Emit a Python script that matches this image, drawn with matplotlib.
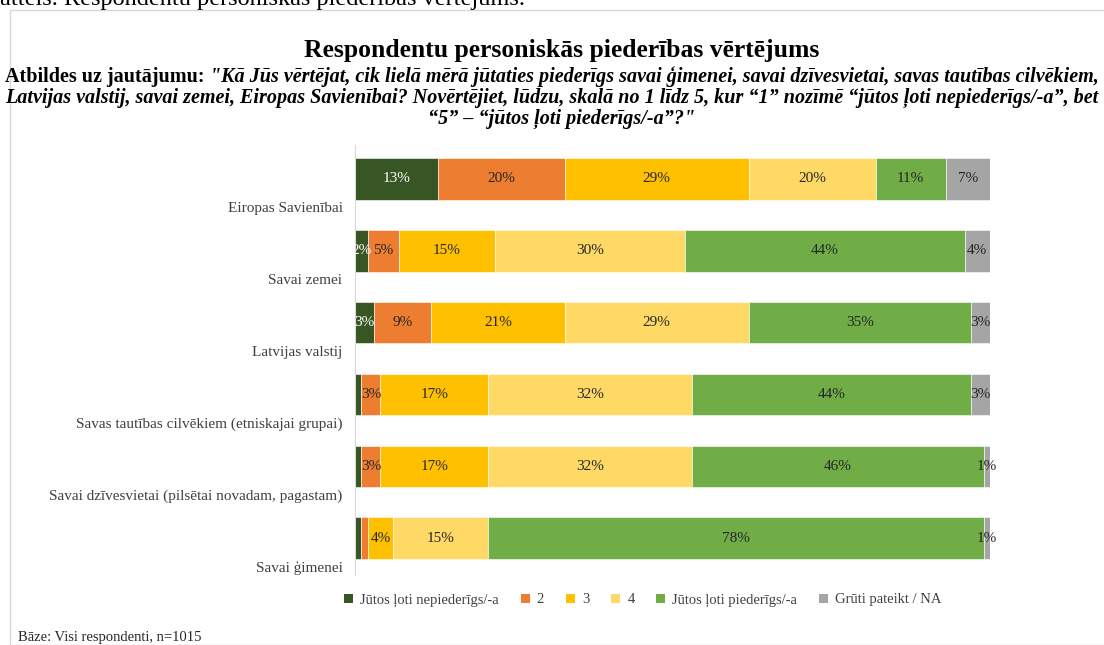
import matplotlib
matplotlib.use("Agg")
import matplotlib.pyplot as plt
from matplotlib.patches import Patch, Rectangle

categories = ["Eiropas Savienībai", "Savai zemei", "Latvijas valstij",
              "Savas tautības cilvēkiem (etniskajai grupai)",
              "Savai dzīvesvietai (pilsētai novadam, pagastam)", "Savai ģimenei"]
series_names = ["Jūtos ļoti nepiederīgs/-a", "2", "3", "4",
                "Jūtos ļoti piederīgs/-a", "Grūti pateikt / NA"]
v_1 = [13, 2, 3, 1, 1, 1]
v_2 = [20, 5, 9, 3, 3, 1]
v_3 = [29, 15, 21, 17, 17, 4]
v_4 = [20, 30, 29, 32, 32, 15]
v_5 = [11, 44, 35, 44, 46, 78]
v_na = [7, 4, 3, 3, 1, 1]
series = [v_1, v_2, v_3, v_4, v_5, v_na]
colors = ["#375623", "#ED7D31", "#FFC000", "#FFD966", "#70AD47", "#A5A5A5"]
label_colors = ["white", "#262626", "#262626", "#262626", "#262626", "#262626"]

title = "Respondentu personiskās piederības vērtējums"
sub_a = "Atbildes uz jautājumu: "
sub_b = "\"Kā Jūs vērtējat, cik lielā mērā jūtaties piederīgs savai ģimenei, savai dzīvesvietai, savas tautības cilvēkiem,"
sub_c = "Latvijas valstij, savai zemei, Eiropas Savienībai? Novērtējiet, lūdzu, skalā no 1 līdz 5, kur “1” nozīmē “jūtos ļoti nepiederīgs/-a”, bet"
sub_d = "“5” – “jūtos ļoti piederīgs/-a”?\""

W, H = 1104, 645
plt.rcParams['font.family'] = ['Liberation Serif', 'DejaVu Serif']
fig = plt.figure(figsize=(W / 100, H / 100), dpi=100)


def fx(px):
    return px / W


def fy(py):
    return 1 - py / H


fig.canvas.draw()
renderer = fig.canvas.get_renderer()


def width_of(s, size, **kw):
    t = fig.text(0, 0, s, fontsize=size, **kw)
    w = t.get_window_extent(renderer).width
    t.remove()
    return w


# document frame
fig.patches.append(Rectangle((fx(10), 0), 1.2, fy(10), transform=fig.transFigure,
                             fill=False, edgecolor="#D9D9D9", linewidth=1.0))

# cut-off caption line above the frame
fig.text(fx(0), fy(5), "attēls. Respondentu personiskās piederības vērtējums.",
         fontsize=17.5, ha="left", va="baseline", color="black")

# title sized to reference width
t_size = 15.5 * 513 / width_of(title, 15.5, fontweight="bold")
fig.text(fx(562), fy(57), title, fontsize=t_size, fontweight="bold",
         ha="center", va="baseline")

# subtitle sized so first line spans the reference width
w1 = width_of(sub_a, 12, fontweight="bold") + width_of(sub_b, 12, fontweight="bold", style="italic")
sub_fs = 12 * 1093 / w1
t1 = fig.text(fx(5), fy(82), sub_a, fontsize=sub_fs, fontweight="bold",
              ha="left", va="baseline")
bb = t1.get_window_extent(renderer)
fig.text(bb.x1 / W, fy(82), sub_b, fontsize=sub_fs, fontweight="bold",
         style="italic", ha="left", va="baseline")
fig.text(fx(5), fy(103), sub_c, fontsize=sub_fs, fontweight="bold",
         style="italic", ha="left", va="baseline")
fig.text(fx(562), fy(124), sub_d, fontsize=sub_fs, fontweight="bold",
         style="italic", ha="center", va="baseline")

# axes
ax = fig.add_axes([fx(355), fy(575), fx(990) - fx(355), fy(145) - fy(575)])
ypos = list(range(len(categories)))
left = [0] * len(categories)
for s_idx, (vals, col) in enumerate(zip(series, colors)):
    ax.barh(ypos, vals, left=left, height=0.58, color=col,
            edgecolor="white", linewidth=0.4, label=series_names[s_idx])
    for i, v in enumerate(vals):
        if v >= 2 or s_idx == len(series) - 1:
            ax.text(left[i] + v / 2, ypos[i], f"{v}%", ha="center", va="center",
                    fontsize=11, color=label_colors[s_idx])
    left = [l + v for l, v in zip(left, vals)]

ax.set_xlim(0, 100)
ax.set_ylim(5.51, -0.47)
ax.set_yticks([y + 0.39 for y in ypos])
ax.set_yticklabels(categories, fontsize=11, color="#404040")
ax.tick_params(axis="y", length=0, pad=9)
ax.set_xticks([])
for sp in ["top", "right", "bottom"]:
    ax.spines[sp].set_visible(False)
ax.spines["left"].set_color("#D9D9D9")

handles = [Patch(facecolor=c, edgecolor="none", label=n) for c, n in zip(colors, series_names)]
fig.legend(handles=handles, loc="center", bbox_to_anchor=(fx(643), fy(600)), ncol=6,
           frameon=False, fontsize=10.5, handlelength=0.6, handleheight=0.6,
           handletextpad=0.5, columnspacing=1.5, labelcolor="#404040")

fig.text(fx(18), fy(641), "Bāze: Visi respondenti, n=1015", fontsize=10.5,
         ha="left", va="baseline", color="#262626")

fig.savefig("out.png", dpi=100)
